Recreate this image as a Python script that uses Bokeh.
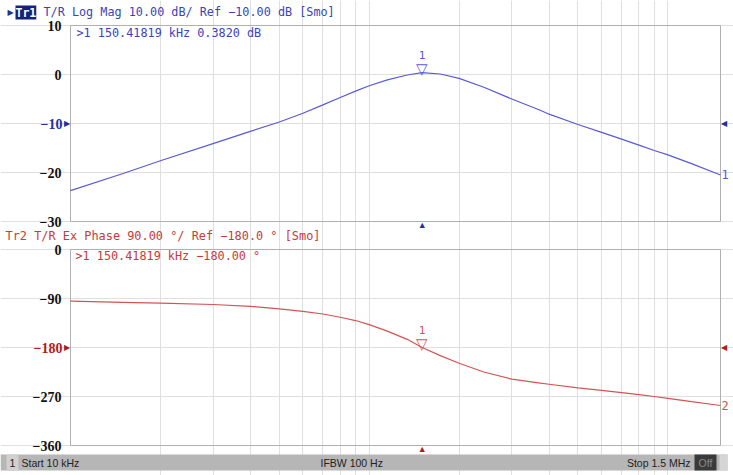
import math
from bokeh.plotting import figure
from bokeh.models import FixedTicker, Label, BoxAnnotation, Range1d, Grid
from bokeh.core.properties import value
from bokeh.embed import file_html
from bokeh.resources import INLINE

# ---------------- data ----------------
start_khz = 10
stop_khz = 1500
freq_khz = [10, 15, 20, 30, 40, 50, 60, 70, 80, 90, 100, 115, 134, 150.41819,
            173, 200, 242, 300, 374, 400, 500, 600, 700, 800, 900, 1000, 1200, 1500]
mag_db = [-23.7, -20.2, -17.6, -14.1, -11.6, -9.7, -7.9, -6.2, -4.7, -3.4, -2.3, -1.1, -0.1, 0.382,
          0.1, -0.8, -2.6, -5.0, -7.3, -8.1, -10.2, -11.8, -13.2, -14.4, -15.5, -16.4, -18.2, -20.5]
phase_deg = [-95, -97, -98.6, -101, -104.5, -109, -113.5, -118.5, -124.5, -130.5, -138, -150, -165, -180,
             -195, -209, -225, -238, -245.5, -247.5, -254.3, -258.7, -263, -266.6, -270, -273.5, -279.5, -286.5]
grid_khz = [20, 30, 40, 50, 60, 70, 80, 90, 100, 200, 300, 400, 500, 600, 700, 800, 900, 1000]

marker_khz = 150.41819
marker_mag = 0.3820
marker_phase = -180.00

mag_ticks = [10, 0, -10, -20, -30]
mag_tick_labels = ["10", "0", "−10", "−20", "−30"]
mag_ref = -10
phase_ticks = [0, -90, -180, -270, -360]
phase_tick_labels = ["0", "−90", "−180", "−270", "−360"]
phase_ref = -180

mag_header = "T/R Log Mag 10.00 dB/ Ref −10.00 dB [Smo]"
mag_readout = ">1  150.41819 kHz  0.3820 dB"
phase_header = "Tr2 T/R Ex Phase 90.00 °/ Ref −180.0 ° [Smo]"
phase_readout = ">1  150.41819 kHz −180.00 °"
status_texts = ["1", "Start 10 kHz", "IFBW 100 Hz", "Stop 1.5 MHz", "Off"]

# ---------------- layout (pixels) ----------------
W, H = 733, 475
PL, PR = 70, 720            # plot boxes, left/right edge
MAG_TOP, MAG_BOT = 25, 221  # top plot box
PH_TOP, PH_BOT = 249, 445   # bottom plot box

MONO = "DejaVu Sans Mono"
SERIF = "Liberation Serif"
BLUE_LINE = "#5a5ad8"
BLUE_TEXT = "#3a44b8"
BLUE_DARK = "#23309c"
RED_LINE = "#d45454"
RED_TEXT = "#c83a3a"
RED_DARK = "#b21c1c"
GRID = "#dfdfdf"
OUTLINE = "#b0b0b0"

# ranges so that the plot boxes land at the pixel edges above
dpp = (math.log10(stop_khz) - math.log10(start_khz)) / (PR - PL)
x_range = Range1d(10 ** (math.log10(start_khz) - PL * dpp),
                  10 ** (math.log10(stop_khz) + (W - PR) * dpp))


def y_range_for(vmin, vmax, top_px, bot_px):
    per = (vmax - vmin) / (bot_px - top_px)
    return Range1d(vmin - (H - bot_px) * per, vmax + top_px * per)


mag_lim = (min(mag_ticks), max(mag_ticks))
ph_lim = (min(phase_ticks), max(phase_ticks))

p = figure(width=W, height=H, x_axis_type="log", x_range=x_range,
           y_range=y_range_for(*mag_lim, MAG_TOP, MAG_BOT),
           x_axis_location=None, y_axis_location=None, toolbar_location=None,
           output_backend="svg", min_border=0)
p.extra_y_ranges = {"phase": y_range_for(*ph_lim, PH_TOP, PH_BOT)}
p.outline_line_color = None
p.background_fill_color = "white"
p.border_fill_color = "white"
p.xgrid.visible = False
p.ygrid.visible = False


def panel(ticks, tick_labels, ref_val, values, marker_val, line_color, dark_color,
          trace_no, rname):
    lo, hi = min(ticks), max(ticks)
    kw = {} if rname is None else {"y_range_name": rname}
    # grid restricted to the plot box
    p.add_layout(Grid(dimension=0, ticker=FixedTicker(ticks=grid_khz), bounds=(lo, hi),
                      grid_line_color=GRID, grid_line_width=1, **kw))
    p.add_layout(Grid(dimension=1, ticker=FixedTicker(ticks=ticks), bounds=(start_khz, stop_khz),
                      grid_line_color=GRID, grid_line_width=1, **kw))
    # plot box outline
    p.quad(left=[start_khz], right=[stop_khz], bottom=[lo], top=[hi], fill_color=None,
           line_color=OUTLINE, line_width=1, **kw)

    # y tick labels
    blk = [(t, l) for t, l in zip(ticks, tick_labels) if t != ref_val]
    p.text(x=[start_khz] * len(blk), y=[t for t, _ in blk], text=[l for _, l in blk],
           x_offset=-9, text_align="right", text_baseline="middle", text_color="#111111",
           text_font=value(SERIF), text_font_style="bold", text_font_size="14px", **kw)
    p.text(x=[start_khz], y=[ref_val], text=[tick_labels[ticks.index(ref_val)]],
           x_offset=-8, text_align="right", text_baseline="middle", text_color=dark_color,
           text_font=value(SERIF), text_font_style="bold", text_font_size="14px", **kw)
    # reference arrows
    p.text(x=[start_khz], y=[ref_val], text=["▶"], x_offset=-1, text_align="right",
           text_baseline="middle", text_color=dark_color, text_font_size="8px", **kw)
    p.text(x=[stop_khz], y=[ref_val], text=["◀"], x_offset=0, text_align="left",
           text_baseline="middle", text_color=dark_color, text_font_size="8px", **kw)
    # stimulus position of marker 1 below the box
    p.text(x=[marker_khz], y=[lo], text=["▲"], y_offset=3.5, text_align="center",
           text_baseline="middle", text_color=dark_color, text_font_size="9px", **kw)

    # trace
    p.line(freq_khz, values, line_color=line_color, line_width=1.2, **kw)
    # trace number at the right end
    p.text(x=[freq_khz[-1]], y=[values[-1]], text=[trace_no], x_offset=1, text_align="left",
           text_baseline="middle", text_color=line_color, text_font=value(MONO),
           text_font_size="12px", **kw)
    # marker 1
    p.text(x=[marker_khz], y=[marker_val], text=["▽"], text_align="center",
           text_baseline="alphabetic", y_offset=-4, text_font_size="15px",
           text_color=line_color, **kw)
    p.text(x=[marker_khz], y=[marker_val], text=["1"], text_align="center",
           text_baseline="alphabetic", y_offset=-18, text_font=value(MONO),
           text_font_size="11px", text_color=line_color, **kw)


panel(mag_ticks, mag_tick_labels, mag_ref, mag_db, marker_mag, BLUE_LINE, BLUE_DARK, "1", None)
panel(phase_ticks, phase_tick_labels, phase_ref, phase_deg, marker_phase, RED_LINE, RED_DARK,
      "2", "phase")


def label(x, y_top, text, color, size, font=MONO, align="left", **extra):
    # x, y_top in pixels from the top-left corner of the canvas
    p.add_layout(Label(x=x, y=H - y_top, x_units="screen", y_units="screen", text=text,
                       text_align=align, text_baseline="middle", text_color=color,
                       text_font=font, text_font_size=size, **extra))


# headers and marker readouts
label(7, 12, "▶", BLUE_DARK, "8px", font="DejaVu Sans")
label(15, 12, "Tr1", "white", "11.5px", background_fill_color="#14237a", text_font_style="bold")
label(43, 11.5, mag_header, BLUE_TEXT, "11.8px")
label(76, 32.5, mag_readout, BLUE_TEXT, "11.8px")
label(5, 235.5, phase_header, RED_TEXT, "11.9px")
label(75, 255, phase_readout, RED_TEXT, "11.8px")


# status bar
def sbox(l, r, color):
    p.add_layout(BoxAnnotation(left=l, right=r, bottom=H - 470, top=H - 454, left_units="screen",
                               right_units="screen", bottom_units="screen", top_units="screen",
                               fill_color=color, fill_alpha=1, line_color=None))


sbox(0, 727, "#b6b6b6")
sbox(6, 18, "#d0d0d0")
sbox(694, 716, "#3a3a3a")
sbox(719, 727, "#d6d6d6")
status_pos = [(12, "center"), (21, "left"), (320, "left"), (690, "right"), (705, "center")]
for (sx, al), t in zip(status_pos, status_texts):
    label(sx, 462, t, "#8c8c8c" if t == "Off" else "#222222", "10.5px",
          font="Liberation Sans", align=al)

open("out.html", "w").write(file_html(p, INLINE))
